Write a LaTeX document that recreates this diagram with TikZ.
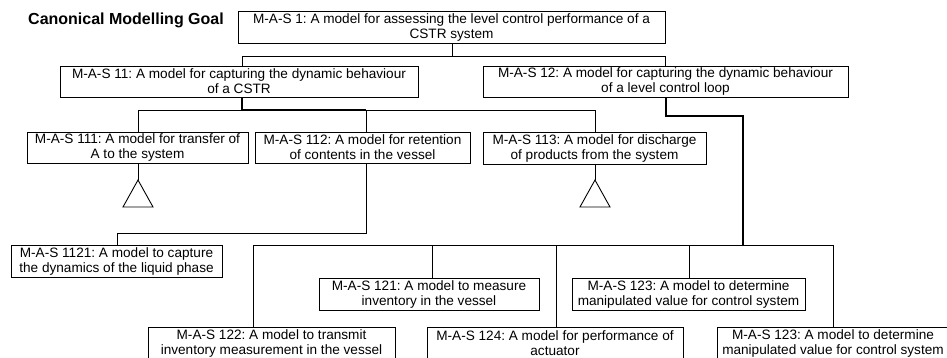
\documentclass[tikz,border=0pt]{standalone}
\usepackage{fontspec}
\setmainfont{Liberation Sans}
\usetikzlibrary{arrows,backgrounds}
\frenchspacing

\begin{document}
\begin{tikzpicture}[x=1pt,y=-1pt,
		goal/.style={draw,line width=0.9pt,align=center,inner sep=0pt,minimum height=32pt,font=\fontsize{13.6}{15}\selectfont},
		link/.style={line width=0.9pt},
		path/.style={line width=2.6pt}]
		\useasboundingbox (0,0) rectangle (947,358);
		\clip (0,0) rectangle (947,358);
		
		\node [font=\bfseries\fontsize{16}{18}\selectfont] (title) at (126,20) {Canonical Modelling Goal};
		
		\node [goal,minimum width=427pt] (mas1) at (451.5,27) {M-A-S 1: A model for assessing the level control performance of a\\CSTR system};
		\node [goal,minimum width=358pt,minimum height=31pt] (mas11) at (239,81.5) {M-A-S 11: A model for capturing the dynamic behaviour\\of a CSTR};
		\node [goal,minimum width=365pt,minimum height=31pt] (mas12) at (665.5,81.5) {M-A-S 12: A model for capturing the dynamic behaviour\\of a level control loop};
		
		\node [goal,minimum width=221pt,minimum height=31pt] (mas111) at (137.5,147.5) {M-A-S 111: A model for transfer of\\A to the system};
		\node [goal,minimum width=215pt,minimum height=31pt] (mas112) at (362.5,147.5) {M-A-S 112: A model for retention\\of contents in the vessel};
		\node [goal,minimum width=223pt] (mas113) at (594.5,148) {M-A-S 113: A model for discharge\\of products from the system};
		\node [goal,minimum width=211pt] (mas1121) at (116.5,261) {M-A-S 1121: A model to capture\\the dynamics of the liquid phase};
		
		\node [goal,minimum width=220pt] (mas121) at (429,294) {M-A-S 121: A model to measure\\inventory in the vessel};
		\node [goal,minimum width=233pt] (mas123) at (688.5,294) {M-A-S 123: A model to determine\\manipulated value for control system};
		\node [goal,minimum width=247pt] (mas122) at (271.5,343) {M-A-S 122: A model to transmit\\inventory measurement in the vessel};
		\node [goal,minimum width=256pt] (mas124) at (555,343) {M-A-S 124: A model for performance of\\actuator};
		\node [goal,minimum width=232pt] (mas123b) at (833,343) {M-A-S 123: A model to determine\\manipulated value for control system};
		
		% level 1
		\coordinate (b1) at (452,56);
		\draw [link] (mas1.south -| b1) -- (b1);
		\draw [link] (242,56) -- (665,56);
		\draw [link] (242,56) -- (242,56 |- mas11.north);
		\draw [link] (665,56) -- (665,56 |- mas12.north);
		
		% level 2, left
		\draw [link] (138,110) -- (595,110);
		\draw [link] (138,110) -- (138,110 |- mas111.north);
		\draw [link] (366,110) -- (366,110 |- mas112.north);
		\draw [link] (595,110) -- (595,110 |- mas113.north);
		\draw [path] (242,110 |- mas11.south) -- (242,110) -- (366,110);
		
		% undeveloped goals
		\coordinate (t1) at (138,180);
		\coordinate (t3) at (595,180);
		\draw [link] (138,180 |- mas111.south) -- (t1);
		\draw [link] (t1) -- (123,207) -- (153,207) -- cycle;
		\draw [link] (595,180 |- mas113.south) -- (t3);
		\draw [link] (t3) -- (580,207) -- (610,207) -- cycle;
		
		\draw [link] (366,233 |- mas112.south) -- (366,233) -- (117,233) -- (117,233 |- mas1121.north);
		
		% level 2, right
		\draw [path] (666,116 |- mas12.south) -- (666,116) -- (743,116) -- (743,245);
		\draw [link] (253,245) -- (833,245);
		\draw [link] (253,245) -- (253,245 |- mas122.north);
		\draw [link] (432,245) -- (432,245 |- mas121.north);
		\draw [link] (556,245) -- (556,245 |- mas124.north);
		\draw [link] (689,245) -- (689,245 |- mas123.north);
		\draw [link] (833,245) -- (833,245 |- mas123b.north);
\end{tikzpicture}
\end{document}
